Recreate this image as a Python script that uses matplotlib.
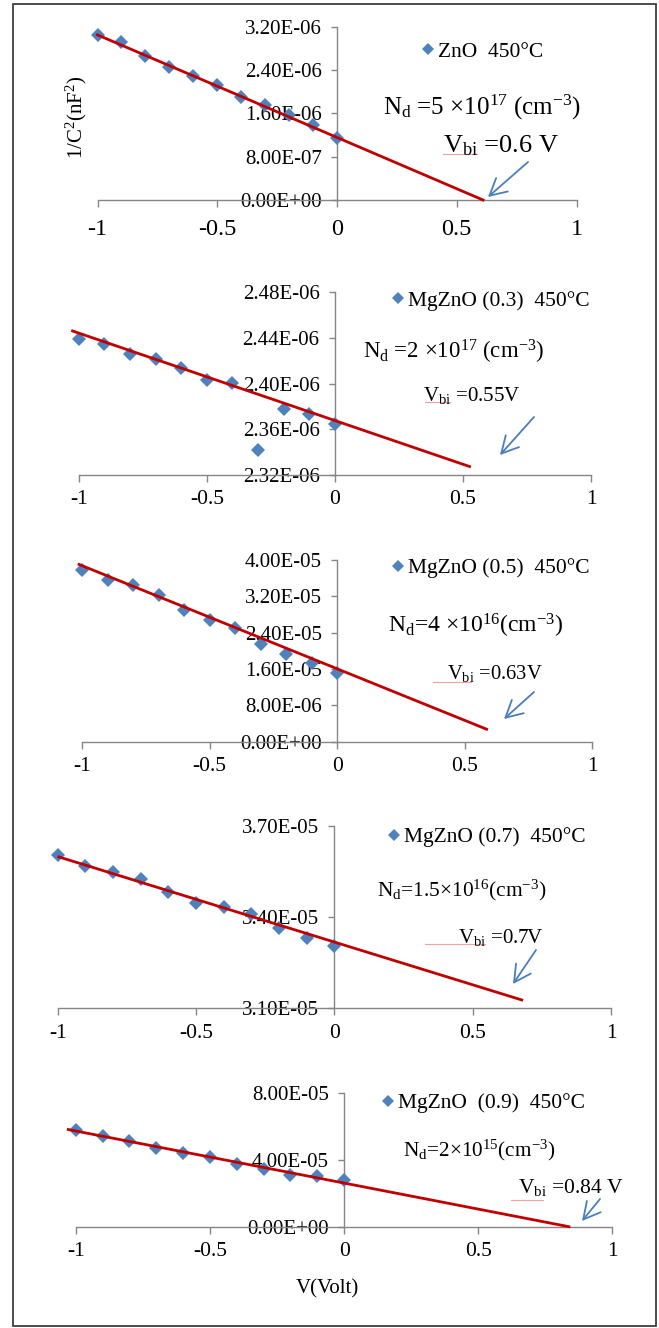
import numpy as np
import matplotlib
matplotlib.use('Agg')
import matplotlib.pyplot as plt
from matplotlib.lines import Line2D
from matplotlib.patches import Rectangle, FancyArrowPatch

plt.rcParams['font.family'] = ['Liberation Serif', 'DejaVu Serif']
plt.rcParams['mathtext.default'] = 'regular'

W, H = 659, 1328

# bias voltage (V) for every sample
volts = [-1.0, -0.9, -0.8, -0.7, -0.6, -0.5, -0.4, -0.3, -0.2, -0.1, 0.0]

# 1/C^2 values
zno_450 = [3.05e-6, 2.91e-6, 2.65e-6, 2.46e-6, 2.29e-6, 2.12e-6, 1.91e-6, 1.75e-6, 1.57e-6, 1.385e-6, 1.15e-6]
mgzno_03 = [2.4391e-6, 2.4345e-6, 2.4257e-6, 2.4219e-6, 2.4140e-6, 2.4032e-6, 2.4009e-6, 2.3419e-6, 2.3778e-6, 2.3731e-6, 2.3647e-6]
mgzno_05 = [37.8e-6, 35.7e-6, 34.5e-6, 32.3e-6, 29.1e-6, 26.8e-6, 25.1e-6, 21.4e-6, 19.2e-6, 17.4e-6, 15.2e-6]
mgzno_07 = [3.604e-5, 3.568e-5, 3.547e-5, 3.527e-5, 3.483e-5, 3.445e-5, 3.432e-5, 3.410e-5, 3.363e-5, 3.332e-5, 3.305e-5]
mgzno_09 = [5.76e-5, 5.40e-5, 5.14e-5, 4.70e-5, 4.40e-5, 4.16e-5, 3.76e-5, 3.46e-5, 3.10e-5, 3.04e-5, 2.76e-5]
series = [zno_450, mgzno_03, mgzno_05, mgzno_07, mgzno_09]

legend_labels = ['ZnO  450°C', 'MgZnO (0.3)  450°C', 'MgZnO (0.5)  450°C',
                 'MgZnO (0.7)  450°C', 'MgZnO  (0.9)  450°C']
nd_labels = ['N$_d$ =5 ×10$^{17}$ (cm$^{-3}$)', 'N$_d$ =2 ×10$^{17}$ (cm$^{-3}$)',
             'N$_d$=4 ×10$^{16}$(cm$^{-3}$)', 'N$_d$=1.5×10$^{16}$(cm$^{-3}$)',
             'N$_d$=2×10$^{15}$(cm$^{-3}$)']
vbi_labels = ['V$_{bi}$ =0.6 V', 'V$_{bi}$ =0.55V', 'V$_{bi}$ =0.63V',
              'V$_{bi}$ =0.7V', 'V$_{bi}$ =0.84 V']

# linear trendlines as drawn (slope, intercept, x range)
fit_slope = [-1.894e-6, -0.0766e-6, -22.7e-6, -0.2814e-5, -3.108e-5]
fit_intercept = [1.155e-6, 2.3677e-6, 16.05e-6, 3.318e-5, 2.605e-5]
fit_start = [-1.0, -1.024, -1.012, -0.996, -1.028]
fit_end = [0.61, 0.526, 0.586, 0.677, 0.838]

y_ticks = [
    [0.0, 8e-7, 1.6e-6, 2.4e-6, 3.2e-6],
    [2.32e-6, 2.36e-6, 2.40e-6, 2.44e-6, 2.48e-6],
    [0.0, 8e-6, 1.6e-5, 2.4e-5, 3.2e-5, 4.0e-5],
    [3.1e-5, 3.4e-5, 3.7e-5],
    [0.0, 4e-5, 8e-5],
]
x_ticks = [-1, -0.5, 0, 0.5, 1]
x_ticklabels = ['-1', '-0.5', '0', '0.5', '1']


def fx(px):
    return px / W


def fy(py):
    return 1 - py / H


# pixel boxes of the plot areas: left, right, top, bottom
boxes = [(97.5, 576.5, 26.7, 200.0), (78.7, 591.0, 292.3, 475.0),
         (82.1, 592.2, 560.0, 741.7), (57.7, 611.1, 826.0, 1008.3),
         (75.8, 612.4, 1092.7, 1226.7)]

# text placement per panel (pixels)
layout = [
    dict(leg=(428, 52), nd=(383, 107, 18), vbi=(443, 146, 19), ul=(443, 477, 154),
         arrow=((528, 162), (488, 197)), xfs=17.5, xpad=9),
    dict(leg=(398, 301), nd=(363, 352, 16.5), vbi=(423, 396, 15), ul=(425, 450, 402),
         arrow=((534, 417), (500, 455)), xfs=15.5, xpad=6),
    dict(leg=(398, 568), nd=(388, 626, 17), vbi=(447, 674, 14.8), ul=(433, 471, 682),
         arrow=((534, 692), (504, 719)), xfs=15.5, xpad=6),
    dict(leg=(394, 837), nd=(377, 890, 15.4), vbi=(458, 937, 15), ul=(425, 485, 944),
         arrow=((536, 950), (513, 984)), xfs=15.5, xpad=6),
    dict(leg=(388, 1103), nd=(403, 1150, 15.3), vbi=(518, 1188, 15.5), ul=(511, 543, 1200),
         arrow=((600, 1199), (582, 1221)), xfs=15.5, xpad=6),
]

fig = plt.figure(figsize=(W / 100, H / 100), dpi=100)
axis_grey = '#868686'
blue = '#4F81BD'

for i in range(5):
    l, r, t, b = boxes[i]
    lay = layout[i]
    ax = fig.add_axes([fx(l), fy(b), (r - l) / W, (b - t) / H])
    ax.set_xlim(-1, 1)
    ax.set_ylim(y_ticks[i][0], y_ticks[i][-1])
    ax.patch.set_alpha(0)

    for side in ['top', 'right']:
        ax.spines[side].set_visible(False)
    ax.spines['left'].set_position(('data', 0))
    for side in ['left', 'bottom']:
        ax.spines[side].set_color(axis_grey)
        ax.spines[side].set_linewidth(1.0)

    ax.set_xticks(x_ticks)
    ax.set_xticklabels(x_ticklabels, fontsize=lay['xfs'])
    ax.set_yticks(y_ticks[i])
    ax.set_yticklabels([f'{v:.2E}' for v in y_ticks[i]], fontsize=15)
    ax.tick_params(axis='x', direction='out', length=5, width=1, color=axis_grey, pad=lay['xpad'])
    ax.tick_params(axis='y', direction='out', length=4, width=1, color=axis_grey, pad=7)

    pts, = ax.plot(volts, series[i], 'D', color=blue, markersize=7, markeredgewidth=0,
                   zorder=3, clip_on=False, label=legend_labels[i])
    xs = np.array([fit_start[i], fit_end[i]])
    ax.plot(xs, fit_slope[i] * xs + fit_intercept[i], color='#C00000', lw=2.0,
            zorder=4, clip_on=False)

    mx, my = lay['leg']
    ax.legend(handles=[pts], loc='center left', bbox_to_anchor=(fx(mx - 6), fy(my)),
              bbox_transform=fig.transFigure, frameon=False, borderpad=0, borderaxespad=0,
              handlelength=0.55, handletextpad=0.2, fontsize=15.5, markerscale=0.9)

    x0, yc, fs = lay['nd']
    fig.text(fx(x0), fy(yc), nd_labels[i], fontsize=fs, ha='left', va='center')
    x0, yc, fs = lay['vbi']
    fig.text(fx(x0), fy(yc), vbi_labels[i], fontsize=fs, ha='left', va='center')

    u0, u1, uy = lay['ul']
    fig.add_artist(Line2D([fx(u0), fx(u1)], [fy(uy), fy(uy)], transform=fig.transFigure,
                          color='#F2A0A0', lw=0.8))

    (ax0, ay0), (ax1, ay1) = lay['arrow']
    fig.add_artist(FancyArrowPatch((fx(ax0), fy(ay0)), (fx(ax1), fy(ay1)),
                                   transform=fig.transFigure,
                                   arrowstyle='->,head_length=0.6,head_width=0.32',
                                   mutation_scale=20, color='#4A7EBB', lw=1.3,
                                   shrinkA=0, shrinkB=0))

fig.text(fx(76), fy(117), '1/C$^{2}$(nF$^{2}$)', rotation=90, fontsize=15,
         ha='center', va='center')
fig.text(fx(327), fy(1289), 'V(Volt)', fontsize=15, ha='center', va='center')

fig.add_artist(Rectangle((fx(12.5), fy(1326)), (656 - 12.5) / W, (1326 - 4) / H,
                         transform=fig.transFigure, fill=False, ec='#3F3F3F', lw=1.3))

fig.savefig('out.png', dpi=100)
